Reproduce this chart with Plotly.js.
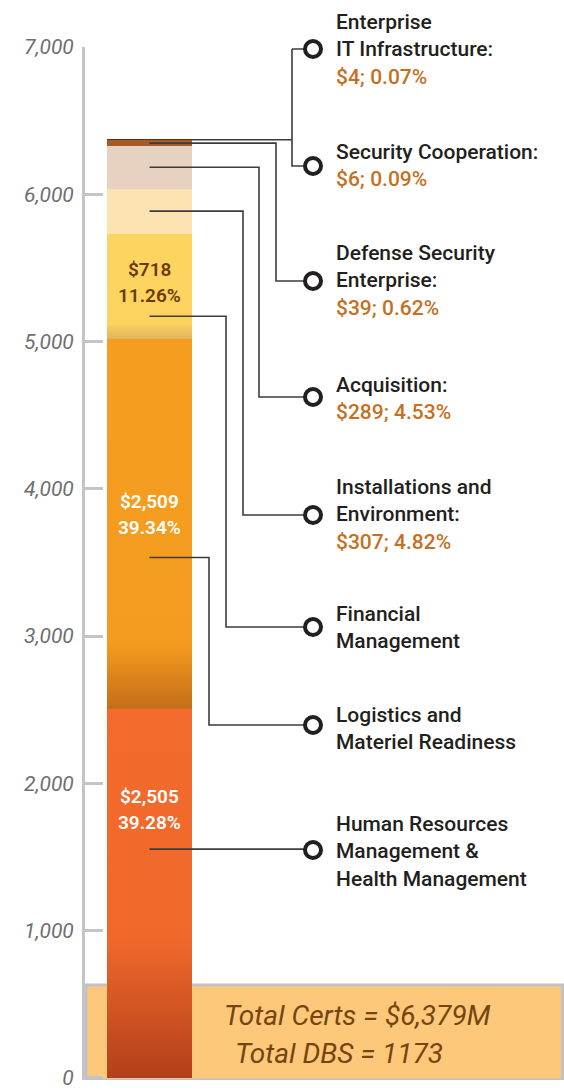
<!DOCTYPE html>
<html><head><meta charset="utf-8">
<script src="https://cdn.plot.ly/plotly-3.0.1.min.js"></script>
<style>html,body{margin:0;padding:0;background:#fff}#chart{width:564px;height:1092px}</style>
</head><body><div id="chart"></div>
<script>
// ---- data ----
const categories = ["Human Resources Management & Health Management", "Logistics and Materiel Readiness",
  "Financial Management", "Installations and Environment", "Acquisition", "Defense Security Enterprise",
  "Security Cooperation", "Enterprise IT Infrastructure"];
const values = [2505, 2509, 718, 307, 289, 39, 6, 4];
const percents = [39.28, 39.34, 11.26, 4.82, 4.53, 0.62, 0.09, 0.07];
const labelLines = [
  ["Human Resources", "Management &", "Health Management"],
  ["Logistics and", "Materiel Readiness"],
  ["Financial", "Management"],
  ["Installations and", "Environment:"],
  ["Acquisition:"],
  ["Defense Security", "Enterprise:"],
  ["Security Cooperation:"],
  ["Enterprise", "IT Infrastructure:"]
];
const showValueLine = [false, false, false, true, true, true, true, true];
const showInBar = [true, true, true, false, false, false, false, false];
const tickValues = [0, 1000, 2000, 3000, 4000, 5000, 6000, 7000];
const tickLabels = ["0", "1,000", "2,000", "3,000", "4,000", "5,000", "6,000", "7,000"];
const totalCerts = "$6,379M";
const totalDBS = "1173";

// ---- styles / layout ----
const colors = ["#F26A2C", "#F59D1F", "#FDD45F", "#FDE3B1", "#E7D2C2", "#A65A24", "#5E3210", "#1A0E05"];
const gradients = [
  [[0, "#F26A2C"], [0.62, "#F0692B"], [1, "#B3401B"]],
  [[0, "#F59D1F"], [0.82, "#F49C1F"], [1, "#C46E19"]],
  [[0, "#FDD45F"], [0.84, "#FDD35F"], [1, "#E0B35E"]],
  null, null, null, null, null
];
const inBarColor = ["#FFFFFF", "#FFFFFF", "#6B3A0A"];
const inBarFrac = [0.726, 0.526, 0.54];
const anchorFrac = [0.62, 0.41, 0.22, 0.5, 0.5, 0.5, 0.5, 0.5];
const labelTopPx = [824, 715, 614, 487, 385, 253, 152, 22];
const circlePx = [850, 725, 627, 515, 397, 281, 166, 49];
const elbowX = [null, 209, 226, 243, 259, 276, 292, 292];
const lineGap = 27.4;
const T = 47, B = 12, H = 1092, L = 85;
const yMin = -15, yMax = 7000;
const pxPerUnit = (H - T - B) / (yMax - yMin);
const pv = py => yMax - (py - T) / pxPerUnit;        // pixel y -> axis value
const vpx = v => T + (yMax - v) * pxPerUnit;          // axis value -> pixel y
const pp = py => (H - B - py) / (H - T - B);          // pixel y -> paper

const barX = 149.5, barW = 85, circX = 313, textX = 334;
const labelFont = {family: "Roboto", size: 21, color: "#231F20", weight: 500};
const valueFont = {family: "Roboto", size: 21, color: "#C5701F", weight: 500};

// cumulative bases
const bases = [];
let acc = 0;
values.forEach(v => { bases.push(acc); acc += v; });

const traces = values.map((v, i) => ({
  type: "bar", x: [barX], y: [v], width: [barW], name: categories[i],
  marker: {color: colors[i], line: {width: 0}}, hoverinfo: "skip", showlegend: false
}));

const annotations = [];
const shapes = [];

// bottom totals box
shapes.push({type: "rect", layer: "below", xref: "x", yref: "y", x0: 86, x1: 562.5, y0: pv(1080), y1: pv(985),
  fillcolor: "#FEC87A", line: {color: "#C2C2C6", width: 3}});
const boxFont = {family: "Roboto", size: 28, color: "#74450F", style: "italic", weight: 400};
annotations.push({xref: "x", yref: "paper", x: 222, y: pp(1015), xanchor: "left", yanchor: "middle", showarrow: false,
  text: "Total Certs = " + totalCerts, font: boxFont});
annotations.push({xref: "x", yref: "paper", x: 233, y: pp(1053), xanchor: "left", yanchor: "middle", showarrow: false,
  text: "Total DBS = " + totalDBS, font: boxFont});

values.forEach((v, i) => {
  // in-bar labels
  if (showInBar[i]) {
    const cy = vpx(bases[i] + inBarFrac[i] * v);
    [["$" + v.toLocaleString("en-US"), -13], [percents[i].toFixed(2) + "%", 13]].forEach(([t, d]) => {
      annotations.push({xref: "x", yref: "paper", x: barX, y: pp(cy + d), xanchor: "center", yanchor: "middle",
        showarrow: false, text: t, font: {family: "Roboto", size: 19, color: inBarColor[i], weight: 600}});
    });
  }
  // right labels
  const lines = labelLines[i].map(t => [t, labelFont]);
  if (showValueLine[i]) lines.push(["$" + v + "; " + percents[i].toFixed(2) + "%", valueFont]);
  lines.forEach(([t, f], k) => {
    annotations.push({xref: "x", yref: "paper", x: textX, y: pp(labelTopPx[i] + k * lineGap), xanchor: "left",
      yanchor: "middle", showarrow: false, text: t, font: f});
  });
});

// connectors (y in paper units)
const cp = i => pp(vpx(bases[i] + anchorFrac[i] * values[i]));
const lineStyle = {color: "#3C3C3C", width: 1.6};
shapes.push({type: "path", xref: "x", yref: "paper", line: lineStyle,
  path: `M${barX},${cp(0)} L${circX},${cp(0)}`});
for (let i = 1; i <= 5; i++) {
  const a = cp(i), c = pp(circlePx[i]);
  shapes.push({type: "path", xref: "x", yref: "paper", line: lineStyle,
    path: `M${barX},${a} L${elbowX[i]},${a} L${elbowX[i]},${c} L${circX},${c}`});
}
{
  const a = cp(6), c1 = pp(circlePx[6]), c2 = pp(circlePx[7]);
  const xr = barX + barW / 2;
  shapes.push({type: "path", xref: "x", yref: "paper", line: lineStyle,
    path: `M${xr},${a} L${elbowX[6]},${a} M${elbowX[7]},${c2} L${elbowX[6]},${c1} L${circX},${c1} M${elbowX[7]},${c2} L${circX},${c2}`});
}
// circles
circlePx.forEach(py => {
  shapes.push({type: "circle", xref: "x", yref: "paper", xsizemode: "pixel", ysizemode: "pixel",
    xanchor: circX, yanchor: pp(py), x0: -8, x1: 8, y0: -8, y1: 8,
    fillcolor: "#FFFFFF", line: {color: "#231F20", width: 4}});
});

const layout = {
  width: 564, height: 1092, margin: {l: L, r: 0, t: T, b: B},
  paper_bgcolor: "#FFFFFF", plot_bgcolor: "rgba(0,0,0,0)",
  barmode: "stack", bargap: 0,
  xaxis: {range: [L, 564], visible: false, fixedrange: true},
  yaxis: {range: [yMin, yMax], tickvals: tickValues, ticktext: tickLabels, showgrid: false, zeroline: false,
    showline: true, linecolor: "#C4C4C8", linewidth: 3, ticks: "inside", ticklen: 18, tickwidth: 3,
    tickcolor: "#C4C4C8", ticklabelstandoff: 4,
    tickfont: {family: "Roboto", size: 21, color: "#6D6E71", style: "italic", weight: 400}},
  shapes: shapes, annotations: annotations, hovermode: false
};

Plotly.newPlot("chart", traces, layout, {displayModeBar: false, staticPlot: true}).then(gd => {
  const svg = gd.querySelector(".main-svg");
  const ns = "http://www.w3.org/2000/svg";
  let defs = svg.querySelector("defs");
  if (!defs) { defs = document.createElementNS(ns, "defs"); svg.insertBefore(defs, svg.firstChild); }
  const trs = gd.querySelectorAll(".barlayer .trace");
  gradients.forEach((g, i) => {
    if (!g) return;
    const lg = document.createElementNS(ns, "linearGradient");
    lg.setAttribute("id", "barg" + i);
    lg.setAttribute("x1", "0"); lg.setAttribute("y1", "0"); lg.setAttribute("x2", "0"); lg.setAttribute("y2", "1");
    g.forEach(([o, c]) => {
      const s = document.createElementNS(ns, "stop");
      s.setAttribute("offset", o); s.setAttribute("stop-color", c);
      lg.appendChild(s);
    });
    defs.appendChild(lg);
    if (trs[i]) trs[i].querySelectorAll("path").forEach(p => { p.style.fill = "url(#barg" + i + ")"; });
  });
});
</script>
</body></html>
